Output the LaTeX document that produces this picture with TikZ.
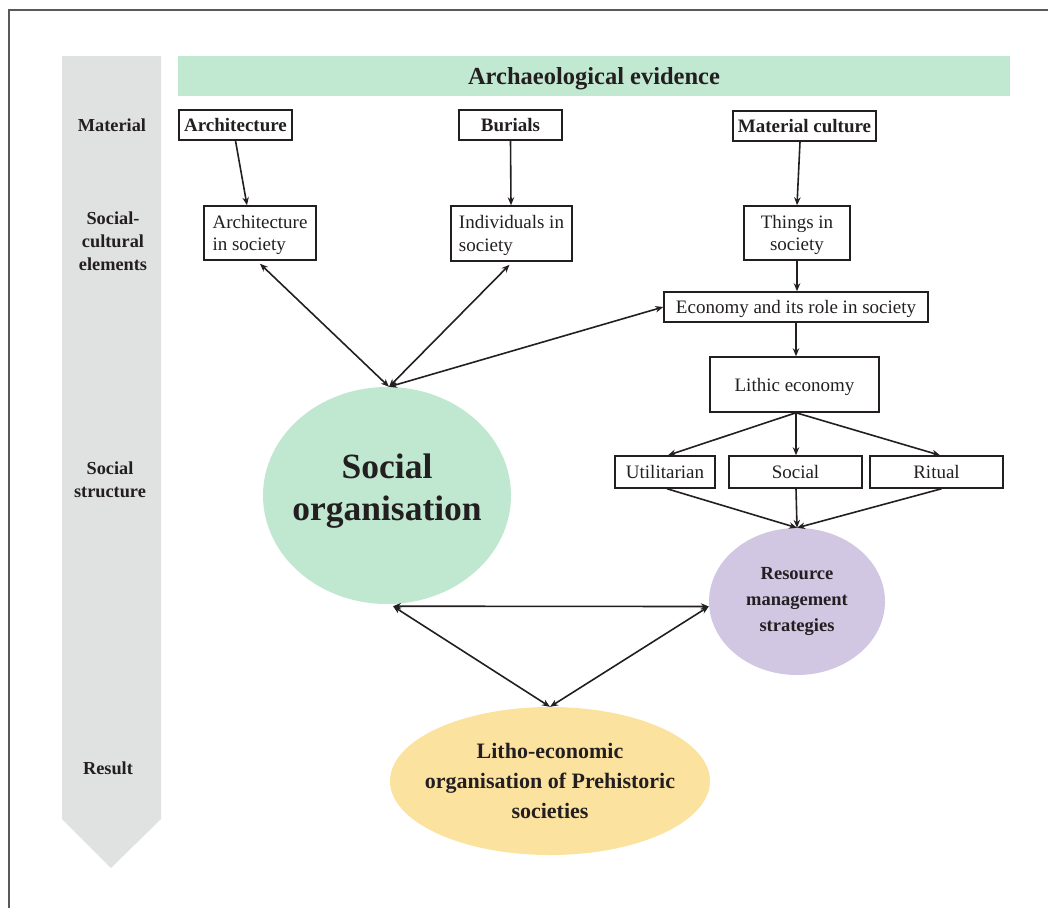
\documentclass[tikz,border=0pt]{standalone}
\usepackage{fontspec}
\setmainfont{Liberation Serif}
\usetikzlibrary{shapes.geometric,arrows.meta}
\definecolor{hdrgreen}{HTML}{C1E8D1}
\definecolor{socgreen}{HTML}{C0E8D0}
\definecolor{rmspurple}{HTML}{D1C7E3}
\definecolor{lithoyellow}{HTML}{FBE29E}
\definecolor{colgrey}{HTML}{E0E1E1}
\definecolor{txt}{HTML}{231F20}
\tikzset{
  boxn/.style={draw=txt, line width=1.5pt, inner sep=0pt, text=txt, text depth=0pt, font=\fontsize{19}{22.5}\selectfont},
  bboxn/.style={boxn, font=\fontsize{19}{22}\selectfont\bfseries},
  sidelabel/.style={text=txt, align=center, font=\fontsize{18.3}{23}\selectfont\bfseries},
  ell/.style={ellipse, inner sep=0pt},
  elltext/.style={text=txt, align=center, inner sep=0pt},
  arr/.style={draw=txt, line width=1.6pt, -{Stealth[length=8pt,width=6.5pt]}},
  darr/.style={draw=txt, line width=1.6pt, {Stealth[length=8pt,width=6.5pt]}-{Stealth[length=8pt,width=6.5pt]}}
}
\begin{document}
\begin{tikzpicture}[x=1pt,y=-1pt]
\useasboundingbox (0,0) rectangle (1048,908);
% frame
\draw[line width=1.2pt, draw=black!65] (9,908) -- (9,10) -- (1048,10);
% grey column arrow
\fill[colgrey] (62,56) -- (161,56) -- (161,819) -- (111,868) -- (62,819) -- cycle;
% header
\node[fill=hdrgreen, minimum width=832pt, minimum height=40pt, inner sep=0pt, text=txt, text depth=0pt,
      font=\fontsize{24.5}{28}\selectfont\bfseries] (hdr) at (594,76) {Archaeological evidence};
% side labels
\node[sidelabel] (lmat) at (112,125) {Material};
\node[sidelabel] (lsoc) at (113,241) {Social-\\cultural\\elements};
\node[sidelabel] (lstr) at (110,480) {Social\\structure};
\node[sidelabel] (lres) at (108,768) {Result};
% material row
\node[bboxn, minimum width=113pt, minimum height=30pt] (arch) at (235.5,125) {Architecture};
\node[bboxn, minimum width=103pt, minimum height=30pt] (bur) at (510.5,125) {Burials};
\node[bboxn, minimum width=143pt, minimum height=30pt] (mat) at (804.5,126) {Material culture};
% social-cultural row
\node[boxn, minimum width=112pt, minimum height=54pt, align=left] (archs) at (260,233) {Architecture\\in society};
\node[boxn, minimum width=121pt, minimum height=55pt, align=left] (ind) at (511.5,233.5) {Individuals in\\society};
\node[boxn, minimum width=106pt, minimum height=54pt, align=center] (thing) at (797,233) {Things in\\society};
% economy
\node[boxn, minimum width=264pt, minimum height=30pt] (eco) at (796,307) {Economy and its role in society};
\node[boxn, minimum width=169pt, minimum height=55pt] (lith) at (794.5,384.5) {Lithic economy};
\node[boxn, minimum width=100pt, minimum height=32pt] (util) at (665,472) {Utilitarian};
\node[boxn, minimum width=133pt, minimum height=32pt] (soc) at (795.5,472) {Social};
\node[boxn, minimum width=133pt, minimum height=32pt] (rit) at (936.5,472) {Ritual};
% ellipses
\node[ell, fill=socgreen, minimum width=248pt, minimum height=217pt] (sorg) at (387,495.5) {};
\node[elltext, font=\fontsize{35.5}{42}\selectfont\bfseries] (sorgt) at ([yshift=4pt]sorg.center) {Social\\organisation};
\node[ell, fill=rmspurple, minimum width=176pt, minimum height=147pt] (rms) at (797,601.5) {};
\node[elltext, font=\fontsize{18.5}{26}\selectfont\bfseries] (rmst) at (rms) {Resource\\management\\strategies};
\node[ell, fill=lithoyellow, minimum width=320pt, minimum height=148pt] (litho) at (550,781) {};
\node[elltext, font=\fontsize{22}{30}\selectfont\bfseries] (lithot) at (litho) {Litho-economic\\organisation of Prehistoric\\societies};
% arrows
\draw[arr] (arch.south) -- ([xshift=-13pt]archs.north);
\draw[arr] (bur.south) -- ([xshift=-0.5pt]ind.north);
\draw[arr] ([xshift=-4.5pt]mat.south) -- (thing.north);
\draw[arr] (thing.south) -- ([xshift=1pt]eco.north);
\draw[arr] (eco.south) -- ([xshift=1.5pt]lith.north);
\draw[arr] ([xshift=1.5pt]lith.south) -- ([xshift=3pt]util.north);
\draw[arr] ([xshift=1.5pt]lith.south) -- ([xshift=0.5pt]soc.north);
\draw[arr] ([xshift=1.5pt]lith.south) -- ([xshift=3.5pt]rit.north);
\draw[arr] ([xshift=2pt]util.south) -- (rms.north);
\draw[arr] ([xshift=0.5pt]soc.south) -- (rms.north);
\draw[arr] ([xshift=5pt]rit.south) -- (rms.north);
\draw[darr] ([yshift=-3pt]archs.south) -- ([xshift=2pt]sorg.north);
\draw[darr] ([xshift=-2pt,yshift=-3pt]ind.south) -- ([xshift=2pt]sorg.north);
\draw[darr] (eco.west) -- ([xshift=2pt]sorg.north);
\draw[darr] ([xshift=6pt,yshift=-2pt]sorg.south) -- ([yshift=-5pt]rms.west);
\draw[darr] ([xshift=6pt,yshift=-2pt]sorg.south) -- (litho.north);
\draw[darr] ([yshift=-5pt]rms.west) -- (litho.north);
\end{tikzpicture}
\end{document}
